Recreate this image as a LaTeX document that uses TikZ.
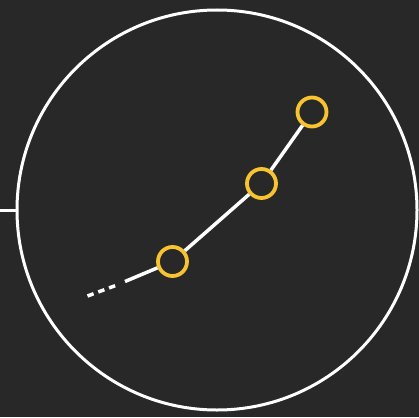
\documentclass[tikz,border=0pt]{standalone}
\definecolor{bg}{HTML}{282828}
\definecolor{ylw}{HTML}{F8C331}
\begin{document}
\begin{tikzpicture}[x=1pt,y=-1pt,
  wline/.style={draw=white,line width=3.5pt},
  dot/.style={circle,draw=ylw,line width=3.8pt,minimum size=29pt,inner sep=0pt,fill=bg}]
\fill[bg] (0,0) rectangle (419,417);
\useasboundingbox (0,0) rectangle (419,417);
\node[circle,draw=white,line width=3pt,minimum size=400pt,inner sep=0pt] (big) at (217,210) {};
\coordinate (lend) at (0,210);
\draw[white,line width=3pt] (lend) -- (big.west);
\node[dot] (p1) at (172.5,261.5) {};
\node[dot] (p2) at (261.5,183.5) {};
\node[dot] (p3) at (312,112) {};
\coordinate (s1) at (125,281.5);
\coordinate (d1) at (117,285);
\coordinate (d0) at (87.5,296);
\draw[wline] (s1) -- (p1);
\draw[wline] (p1) -- (p2);
\draw[wline] (p2) -- (p3);
\draw[white,line width=3.5pt,dash pattern=on 6.5pt off 5pt] (d0) -- (d1);
\end{tikzpicture}
\end{document}
